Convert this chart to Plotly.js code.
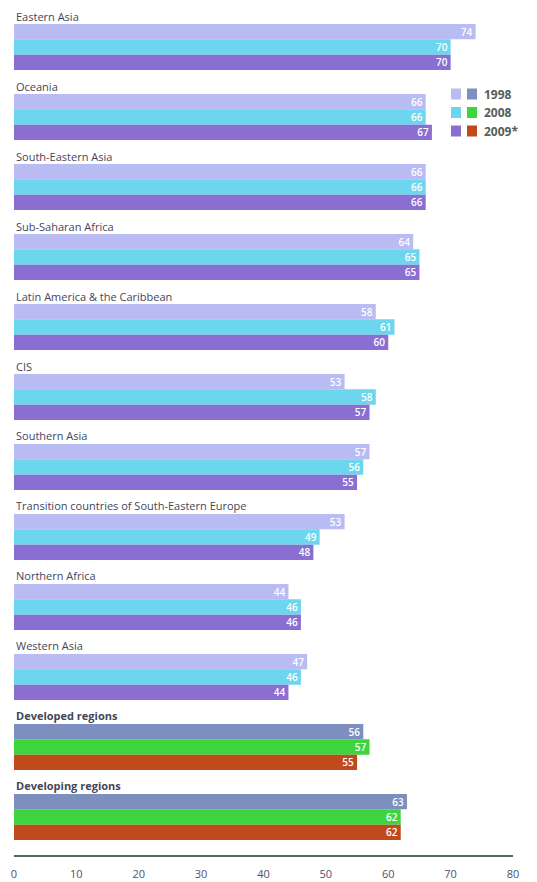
<!DOCTYPE html>
<html>
<head>
<meta charset="utf-8">
<script src="https://cdn.plot.ly/plotly-3.0.1.min.js"></script>
<style>html,body{margin:0;padding:0;background:#fff;}#chart{width:537px;height:882px;}</style>
</head>
<body>
<div id="chart"></div>
<script>
const regions = ["Eastern Asia","Oceania","South-Eastern Asia","Sub-Saharan Africa","Latin America & the Caribbean","CIS","Southern Asia","Transition countries of South-Eastern Europe","Northern Africa","Western Asia","Developed regions","Developing regions"];
const years = ["1998","2008","2009*"];
const v1998 = [74,66,66,64,58,53,57,53,44,47,56,63];
const v2008 = [70,66,66,65,61,58,56,49,46,46,57,62];
const v2009 = [70,67,66,65,60,57,55,48,46,44,55,62];
const xTicks = [0,10,20,30,40,50,60,70,80];

const regionColors = ["#b8bcf2","#6cd6ee","#8a6ed2"];
const aggColors = ["#7c8fbe","#3ed43e","#c04a1c"];
const aggregates = ["Developed regions","Developing regions"];

const series = [v1998, v2008, v2009];
const traces = series.map((vals, k) => ({
  type: "bar",
  orientation: "h",
  name: years[k],
  y: regions,
  x: vals,
  text: vals.map(String),
  textposition: "inside",
  insidetextanchor: "end",
  textangle: 0,
  constraintext: "none",
  textfont: {color: "#ffffff", size: 10, family: "Open Sans, sans-serif", weight: 600},
  marker: {color: regions.map(r => aggregates.includes(r) ? aggColors[k] : regionColors[k]), line: {width: 0}},
  hoverinfo: "x+y+name",
  showlegend: false
}));

const W = 537, H = 882, mL = 14, mR = 24, mT = 12, mB = 27;
const pw = W - mL - mR, ph = H - mT - mB;
const px = x => (x - mL) / pw;
const py = y => 1 - (y - mT) / ph;

const annotations = regions.map((r, i) => ({
  xref: "x", yref: "y", x: 0, y: r, xanchor: "left", yanchor: "middle",
  yshift: 31, showarrow: false,
  text: aggregates.includes(r) ? "<b>" + r + "</b>" : r,
  font: {family: "Open Sans, sans-serif", size: 11, color: "#45455a"}
}));

const shapes = [];
const legendRows = [94, 112.5, 131];
years.forEach((yr, k) => {
  const cy = legendRows[k];
  shapes.push({type: "rect", xref: "paper", yref: "paper", x0: px(451), x1: px(461), y0: py(cy + 5.5), y1: py(cy - 5.5), fillcolor: regionColors[k], line: {width: 0}});
  shapes.push({type: "rect", xref: "paper", yref: "paper", x0: px(467), x1: px(477), y0: py(cy + 5.5), y1: py(cy - 5.5), fillcolor: aggColors[k], line: {width: 0}});
  annotations.push({xref: "paper", yref: "paper", x: px(482), y: py(cy), xanchor: "left", yanchor: "middle", showarrow: false,
    text: "<b>" + yr + "</b>", font: {family: "Open Sans, sans-serif", size: 12, color: "#55605a"}});
});

const layout = {
  width: W, height: H,
  margin: {l: mL, r: mR, t: mT, b: mB},
  paper_bgcolor: "#ffffff", plot_bgcolor: "#ffffff",
  barmode: "group", bargap: 0.343, bargroupgap: 0,
  showlegend: false,
  uniformtext: {mode: false},
  xaxis: {range: [0, 80], tickvals: xTicks, ticktext: xTicks.map(String), showgrid: false, zeroline: false,
    showline: true, linecolor: "#4f6f58", linewidth: 2, ticks: "outside", ticklen: 8, tickcolor: "rgba(0,0,0,0)",
    tickfont: {family: "Open Sans, sans-serif", size: 11, color: "#50506a"}, fixedrange: true},
  yaxis: {type: "category", categoryorder: "array", categoryarray: regions, range: [11.543, -0.5],
    showticklabels: false, showgrid: false, zeroline: false, showline: false, ticks: "", fixedrange: true},
  annotations: annotations,
  shapes: shapes,
  font: {family: "Open Sans, sans-serif"}
};

Plotly.newPlot("chart", traces, layout, {displayModeBar: false, staticPlot: true});
</script>
</body>
</html>
